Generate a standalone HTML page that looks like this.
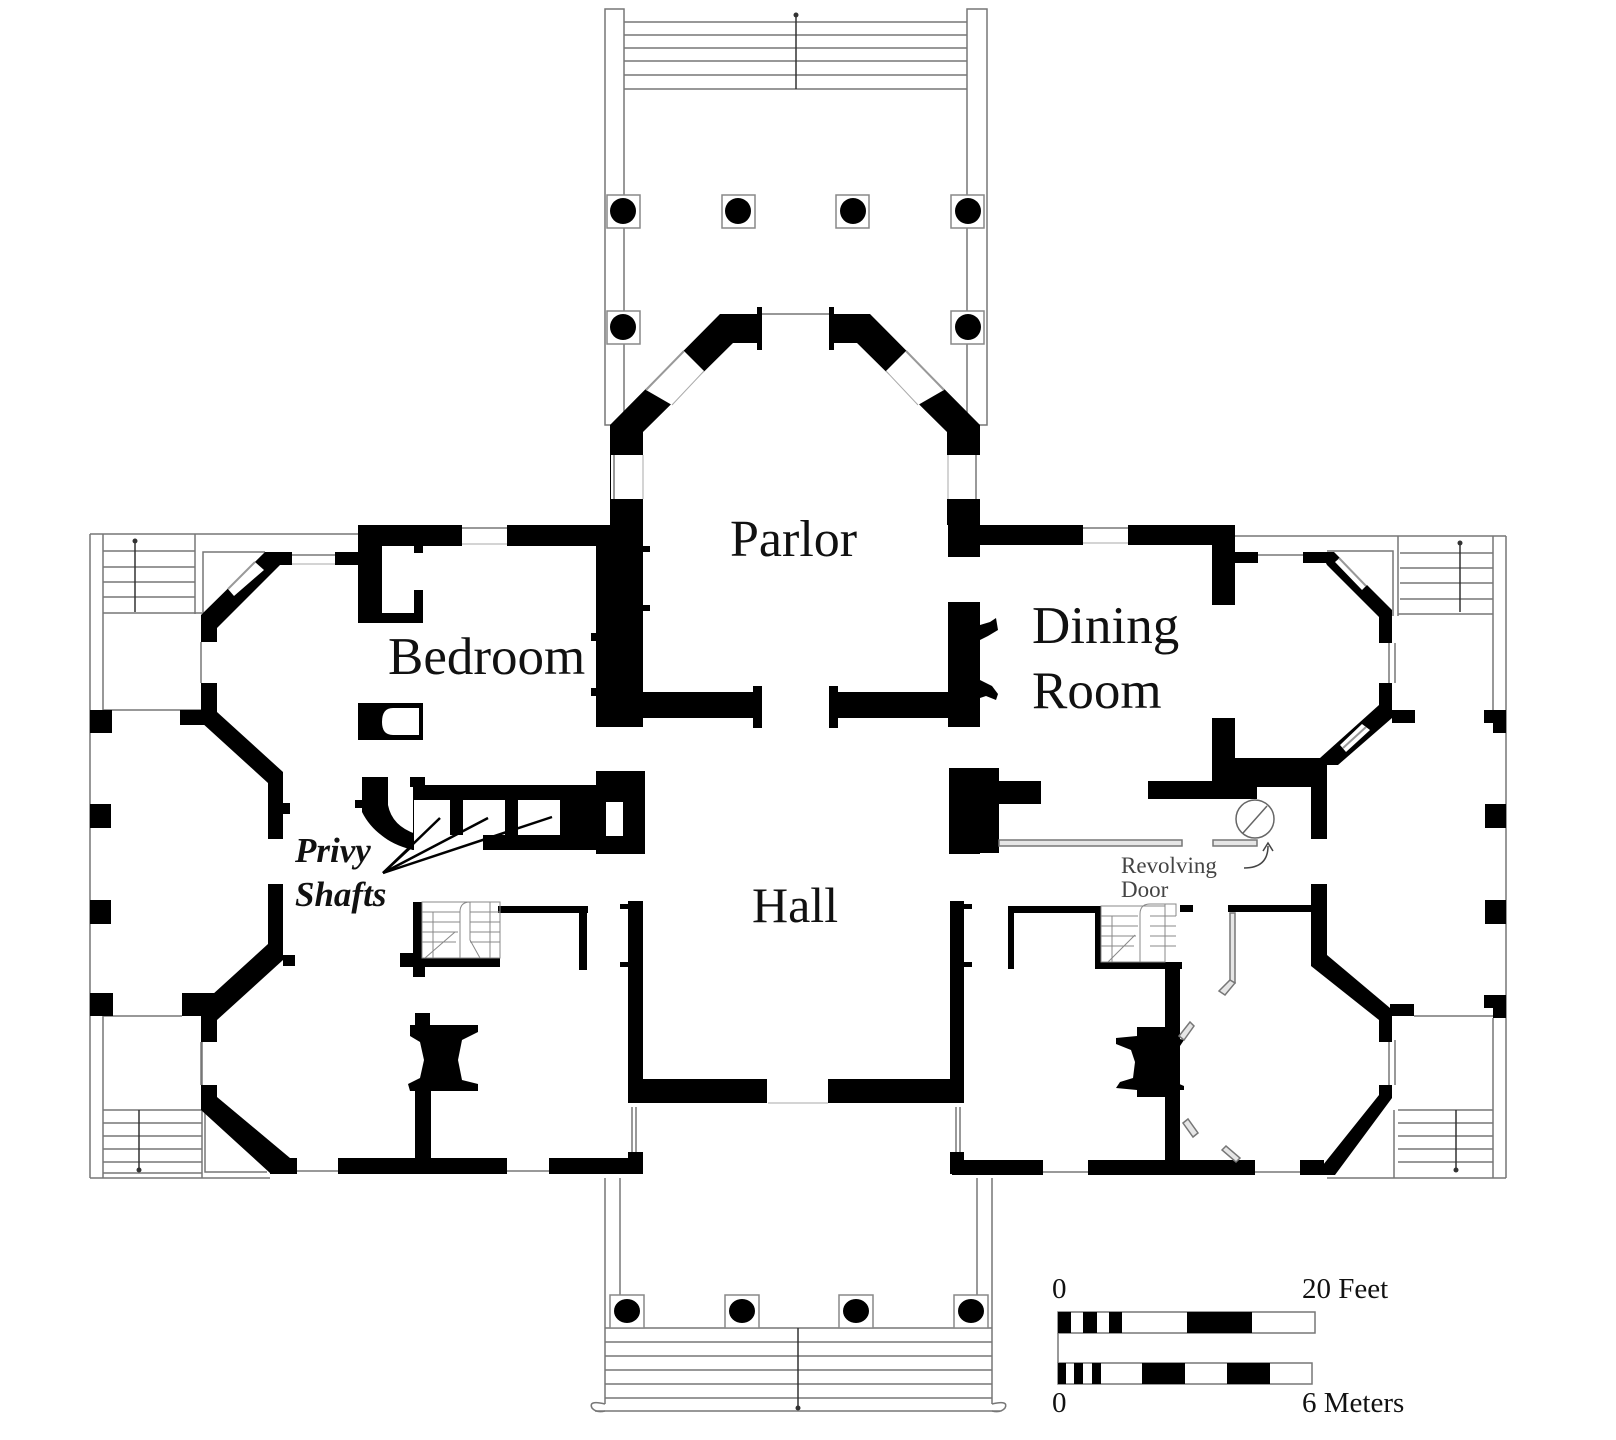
<!DOCTYPE html>
<html><head><meta charset="utf-8"><style>
html,body{margin:0;padding:0;background:#fff;}
svg{display:block;}
text{font-family:"Liberation Serif",serif;fill:#111;}
</style></head><body>
<svg width="1616" height="1440" viewBox="0 0 1616 1440" xmlns="http://www.w3.org/2000/svg">
<rect width="1616" height="1440" fill="#fff"/>

<!-- ===== TOP PORTICO ===== -->
<g fill="none" stroke="#777" stroke-width="1.5">
  <rect x="605" y="9" width="19" height="416"/>
  <rect x="967" y="9" width="20" height="416"/>
  <line x1="624" y1="22" x2="967" y2="22"/>
  <line x1="624" y1="35" x2="967" y2="35"/>
  <line x1="624" y1="48" x2="967" y2="48"/>
  <line x1="624" y1="61" x2="967" y2="61"/>
  <line x1="624" y1="75" x2="967" y2="75"/>
  <line x1="624" y1="89" x2="967" y2="89"/>
  <line x1="796" y1="15" x2="796" y2="89" stroke="#333"/>
  <line x1="760" y1="314" x2="830" y2="314"/>
</g>
<circle cx="796" cy="15" r="2.5" fill="#333"/>
<g fill="#fff" stroke="#888" stroke-width="1.5">
  <rect x="607" y="195" width="33" height="33"/><rect x="722" y="195" width="33" height="33"/>
  <rect x="836" y="195" width="33" height="33"/><rect x="951" y="195" width="33" height="33"/>
  <rect x="607" y="311" width="33" height="33"/><rect x="951" y="311" width="33" height="33"/>
</g>
<g fill="#000">
  <circle cx="623" cy="211" r="13"/><circle cx="738" cy="211" r="13"/>
  <circle cx="853" cy="211" r="13"/><circle cx="968" cy="211" r="13"/>
  <circle cx="623" cy="327" r="13"/><circle cx="968" cy="327" r="13"/>
</g>

<!-- ===== BOTTOM PORTICO ===== -->
<g fill="none" stroke="#777" stroke-width="1.5">
  <line x1="605" y1="1178" x2="605" y2="1404"/><line x1="620" y1="1178" x2="620" y2="1295"/>
  <line x1="977" y1="1178" x2="977" y2="1295"/><line x1="992" y1="1178" x2="992" y2="1404"/>
  <line x1="605" y1="1328" x2="992" y2="1328"/>
  <line x1="605" y1="1342" x2="992" y2="1342"/>
  <line x1="605" y1="1356" x2="992" y2="1356"/>
  <line x1="605" y1="1370" x2="992" y2="1370"/>
  <line x1="605" y1="1384" x2="992" y2="1384"/>
  <line x1="605" y1="1398" x2="992" y2="1398"/>
  <line x1="595" y1="1411" x2="1000" y2="1411"/>
  <path d="M605,1404 Q588,1400 592,1408 Q596,1413 605,1411"/>
  <path d="M992,1404 Q1009,1400 1005,1408 Q1001,1413 992,1411"/>
  <line x1="798" y1="1328" x2="798" y2="1408" stroke="#333"/>
</g>
<circle cx="798" cy="1408" r="2.5" fill="#333"/>
<g fill="#fff" stroke="#888" stroke-width="1.5">
  <rect x="610" y="1295" width="34" height="33"/><rect x="725" y="1295" width="34" height="33"/>
  <rect x="839" y="1295" width="34" height="33"/><rect x="954" y="1295" width="34" height="33"/>
</g>
<g fill="#000">
  <ellipse cx="627" cy="1311" rx="13" ry="12"/><ellipse cx="742" cy="1311" rx="13" ry="12"/>
  <ellipse cx="856" cy="1311" rx="13" ry="12"/><ellipse cx="971" cy="1311" rx="13" ry="12"/>
</g>

<!-- ===== LEFT PORCH ===== -->
<g fill="none" stroke="#777" stroke-width="1.5">
  <line x1="90" y1="534" x2="90" y2="1178"/>
  <line x1="103" y1="534" x2="103" y2="710"/>
  <line x1="103" y1="1016" x2="103" y2="1178"/>
  <line x1="90" y1="534" x2="360" y2="534"/>
  <line x1="195" y1="534" x2="195" y2="614"/>
  <polyline points="265,552 203,552 203,615"/>
  <line x1="103" y1="551" x2="195" y2="551"/><line x1="103" y1="567" x2="195" y2="567"/>
  <line x1="103" y1="582" x2="195" y2="582"/><line x1="103" y1="597" x2="195" y2="597"/>
  <line x1="103" y1="613" x2="202" y2="613"/>
  <line x1="103" y1="710" x2="201" y2="710"/>
  <line x1="201" y1="642" x2="201" y2="683"/>
  <line x1="103" y1="1016" x2="182" y2="1016"/>
  <line x1="202" y1="1016" x2="202" y2="1178"/>
  <line x1="201" y1="1042" x2="201" y2="1085"/>
  <line x1="103" y1="1110" x2="202" y2="1110"/><line x1="103" y1="1123" x2="202" y2="1123"/>
  <line x1="103" y1="1136" x2="202" y2="1136"/><line x1="103" y1="1149" x2="202" y2="1149"/>
  <line x1="103" y1="1162" x2="202" y2="1162"/><line x1="103" y1="1173" x2="202" y2="1173"/>
  <line x1="90" y1="1178" x2="270" y2="1178"/>
  <polyline points="205,1110 205,1172 267,1172"/>
  <line x1="135" y1="541" x2="135" y2="612" stroke="#333"/>
  <line x1="139" y1="1110" x2="139" y2="1170" stroke="#333"/>
</g>
<circle cx="135" cy="541" r="2.5" fill="#333"/><circle cx="139" cy="1170" r="2.5" fill="#333"/>
<g fill="#000">
  <rect x="90" y="710" width="22" height="23"/>
  <rect x="90" y="804" width="21" height="24"/>
  <rect x="90" y="900" width="21" height="24"/>
  <rect x="90" y="993" width="23" height="23"/>
</g>

<!-- ===== RIGHT PORCH ===== -->
<g fill="none" stroke="#777" stroke-width="1.5">
  <line x1="1506" y1="536" x2="1506" y2="1178"/>
  <line x1="1493" y1="536" x2="1493" y2="710"/>
  <line x1="1493" y1="1018" x2="1493" y2="1178"/>
  <line x1="1235" y1="536" x2="1506" y2="536"/>
  <line x1="1398" y1="536" x2="1398" y2="616"/>
  <polyline points="1327,551 1393,551 1393,616"/>
  <line x1="1400" y1="553" x2="1493" y2="553"/><line x1="1400" y1="568" x2="1493" y2="568"/>
  <line x1="1400" y1="583" x2="1493" y2="583"/><line x1="1400" y1="599" x2="1493" y2="599"/>
  <line x1="1398" y1="614" x2="1493" y2="614"/>
  <line x1="1395" y1="643" x2="1395" y2="683"/>
  <line x1="1395" y1="1040" x2="1395" y2="1085"/>
  <line x1="1414" y1="1016" x2="1493" y2="1016"/>
  <line x1="1394" y1="1110" x2="1394" y2="1178"/>
  <line x1="1398" y1="1110" x2="1493" y2="1110"/><line x1="1398" y1="1123" x2="1493" y2="1123"/>
  <line x1="1398" y1="1136" x2="1493" y2="1136"/><line x1="1398" y1="1149" x2="1493" y2="1149"/>
  <line x1="1398" y1="1162" x2="1493" y2="1162"/>
  <line x1="1327" y1="1178" x2="1506" y2="1178"/>
  <line x1="1460" y1="543" x2="1460" y2="612" stroke="#333"/>
  <line x1="1456" y1="1110" x2="1456" y2="1170" stroke="#333"/>
</g>
<circle cx="1460" cy="543" r="2.5" fill="#333"/><circle cx="1456" cy="1170" r="2.5" fill="#333"/>
<g fill="#000">
  <path d="M1484,710 H1506 V733 H1493 V723 H1484 Z"/>
  <rect x="1485" y="804" width="21" height="24"/>
  <rect x="1485" y="900" width="21" height="24"/>
  <path d="M1484,995 H1506 V1018 H1493 V1008 H1484 Z"/>
</g>

<!-- ===== WALLS ===== -->
<g fill="#000">
  <polygon points="720,314 760,314 760,343 733,343 643,432 643,525 610,525 610,425"/>
  <polygon points="870,314 830,314 830,343 857,343 947,432 947,525 980,525 980,425"/>
  <rect x="757" y="307" width="5" height="43"/><rect x="829" y="307" width="5" height="43"/>
  <rect x="596" y="545" width="47" height="182"/>
  <rect x="610" y="495" width="33" height="55"/>
  <rect x="591" y="633" width="6" height="8"/>
  <rect x="591" y="688" width="6" height="8"/>
  <rect x="643" y="546" width="7" height="6"/>
  <rect x="643" y="605" width="7" height="6"/>
  <rect x="948" y="495" width="32" height="62"/>
  <rect x="948" y="602" width="32" height="125"/>
  <path d="M980,625 L990,622 L996,618 L998,630 L988,636 L980,640 Z"/>
  <path d="M980,680 L992,686 L998,694 L996,700 L986,696 L980,698 Z"/>
  <rect x="359" y="525" width="252" height="21"/>
  <rect x="980" y="525" width="255" height="20"/>
  <rect x="643" y="692" width="114" height="26"/>
  <rect x="753" y="686" width="9" height="42"/>
  <rect x="834" y="692" width="116" height="26"/>
  <rect x="829" y="686" width="9" height="42"/>
  <rect x="596" y="771" width="49" height="83"/>
  <rect x="949" y="771" width="31" height="83"/>
  <rect x="949" y="768" width="50" height="85"/>
  <rect x="999" y="781" width="42" height="23"/>
  <rect x="628" y="901" width="15" height="202"/>
  <rect x="620" y="904" width="8" height="5"/><rect x="620" y="962" width="8" height="5"/>
  <rect x="628" y="1152" width="15" height="22"/>
  <rect x="950" y="901" width="14" height="202"/>
  <rect x="964" y="904" width="8" height="5"/><rect x="964" y="962" width="8" height="5"/>
  <rect x="950" y="1152" width="14" height="22"/>
  <rect x="643" y="1079" width="124" height="24"/>
  <rect x="828" y="1079" width="122" height="24"/>

  <rect x="358" y="525" width="24" height="98"/>
  <rect x="358" y="613" width="65" height="10"/>
  <rect x="414" y="590" width="9" height="33"/>
  <rect x="414" y="545" width="9" height="8"/>
  <path d="M358,703 H423 V740 H358 Z M393,708 Q382,708 382,722 Q382,735 393,735 H419 V708 Z" fill-rule="evenodd"/>
  <rect x="265" y="552" width="94" height="13"/>
  <polygon points="265,552 280,552 280,565 217,628 217,642 201,642 201,615"/>
  <rect x="201" y="683" width="16" height="27"/>
  <rect x="180" y="710" width="37" height="15"/>
  <polygon points="201,712 217,712 283,772 283,790 268,790 268,783 201,722"/>
  <rect x="268" y="772" width="15" height="67"/>
  <rect x="283" y="803" width="7" height="11"/>
  <rect x="268" y="884" width="15" height="72"/>
  <rect x="283" y="955" width="12" height="11"/>
  <polygon points="268,950 283,950 283,960 217,1020 217,1016 201,1020 201,1005 268,944"/>
  <rect x="182" y="993" width="35" height="23"/>
  <rect x="201" y="1010" width="16" height="32"/>
  <polygon points="201,1085 217,1085 217,1097 290,1158 270,1173 201,1110"/>
  <rect x="270" y="1158" width="373" height="16"/>
  <rect x="415" y="1089" width="16" height="70"/>
  <polygon points="415,1013 430,1013 430,1025 478,1025 478,1032 462,1040 458,1060 462,1080 478,1084 478,1091 410,1091 408,1084 420,1078 424,1060 420,1042 410,1036 410,1025 415,1025"/>
  <rect x="413" y="902" width="9" height="75"/>
  <rect x="400" y="953" width="22" height="14"/>
  <rect x="413" y="958" width="87" height="9"/>
  <rect x="413" y="967" width="12" height="10"/>
  <rect x="498" y="906" width="90" height="7"/>
  <rect x="579" y="906" width="8" height="64"/>
  <rect x="413" y="785" width="232" height="65"/>
  <rect x="410" y="777" width="15" height="10"/>
  <path d="M362,777 H388 V805 Q392,826 416,834 L413,850 Q376,840 362,812 Z"/>
  <rect x="355" y="800" width="10" height="8"/>
</g>
<g fill="#fff">
  <rect x="414" y="800" width="36" height="50"/>
  <rect x="450" y="835" width="33" height="15"/>
  <rect x="463" y="800" width="42" height="35"/>
  <rect x="518" y="800" width="42" height="35"/>
  <rect x="606" y="802" width="17" height="34"/>
</g>
<g fill="#000">
  <rect x="623" y="785" width="22" height="65"/>
  <rect x="598" y="771" width="47" height="14"/>
  <path d="M388,812 Q396,832 414,838 L413,850 Q380,842 370,820 Z"/>
</g>
<g stroke="#000" stroke-width="2.5" fill="none">
  <line x1="383" y1="873" x2="440" y2="818"/>
  <line x1="383" y1="873" x2="488" y2="818"/>
  <line x1="383" y1="873" x2="552" y2="817"/>
  <line x1="383" y1="873" x2="410" y2="848"/>
</g>

<!-- ===== RIGHT WING ===== -->
<g fill="#000">
  <rect x="1212" y="525" width="23" height="80"/>
  <rect x="1235" y="552" width="92" height="11"/>
  <polygon points="1320,552 1334,552 1392,610 1392,622 1379,622 1379,617 1327,565"/>
  <rect x="1379" y="617" width="13" height="26"/>
  <rect x="1379" y="683" width="13" height="27"/>
  <rect x="1392" y="710" width="23" height="13"/>
  <polygon points="1379,705 1392,710 1392,718 1338,765 1320,765 1320,758 1379,705"/>
  <rect x="1212" y="718" width="23" height="69"/>
  <rect x="1235" y="758" width="92" height="29"/>
  <rect x="1148" y="781" width="109" height="18"/>
  <rect x="1311" y="768" width="16" height="71"/>
  <rect x="1311" y="884" width="16" height="76"/>
  <polygon points="1311,955 1327,955 1390,1008 1390,1020 1379,1020 1311,966"/>
  <rect x="1390" y="1004" width="24" height="12"/>
  <rect x="1379" y="1016" width="13" height="26"/>
  <rect x="1379" y="1085" width="13" height="10"/>
  <polygon points="1379,1088 1392,1092 1392,1098 1335,1175 1315,1175 1379,1095"/>
  <rect x="952" y="1160" width="372" height="15"/>
  <rect x="1008" y="906" width="93" height="7"/>
  <rect x="1008" y="906" width="6" height="63"/>
  <rect x="1095" y="906" width="6" height="62"/>
  <rect x="1095" y="962" width="87" height="7"/>
  <rect x="1165" y="962" width="15" height="198"/>
  <rect x="1180" y="905" width="13" height="7"/>
  <rect x="1228" y="905" width="89" height="7"/>
  <polygon points="1137,1027 1167,1027 1167,1036 1184,1040 1180,1046 1170,1050 1168,1065 1170,1080 1184,1086 1184,1090 1167,1090 1167,1097 1137,1097 1137,1090 1116,1088 1120,1082 1133,1078 1135,1062 1131,1050 1116,1044 1116,1038 1137,1036"/>
</g>

<!-- windows -->
<g fill="#fff" stroke="none">
  <polygon points="684,351 646,390 672,405 704,371"/>
  <polygon points="906,351 944,390 918,405 886,371"/>
  <rect x="611" y="455" width="34" height="44"/>
  <rect x="946" y="455" width="35" height="44"/>
  <rect x="1083" y="525" width="45" height="20"/>
  <rect x="462" y="525" width="45" height="21"/>
  <rect x="292" y="552" width="43" height="13"/>
  <polygon points="255,562 228,589 234,596 264,570"/>
  <rect x="1258" y="552" width="45" height="11"/>
  <polygon points="1335,562 1362,590 1368,584 1342,556"/>
  <rect x="1378" y="643" width="15" height="40"/>
  <polygon points="1362,724 1340,745 1346,752 1370,730"/>
  <rect x="297" y="1158" width="41" height="16"/>
  <rect x="507" y="1158" width="42" height="16"/>
  <rect x="1043" y="1160" width="45" height="15"/>
  <rect x="1255" y="1160" width="45" height="15"/>
  <rect x="627" y="1107" width="17" height="45"/>
  <rect x="949" y="1107" width="17" height="45"/>
  <rect x="1378" y="1042" width="15" height="43"/>
</g>
<g stroke="#999" stroke-width="2" fill="none">
  <line x1="684" y1="351" x2="646" y2="390"/>
  <line x1="906" y1="351" x2="944" y2="390"/>
  <line x1="614" y1="455" x2="614" y2="499"/>
  <line x1="976" y1="455" x2="976" y2="499"/>
  <line x1="1083" y1="528" x2="1128" y2="528"/>
  <line x1="462" y1="528" x2="507" y2="528"/>
  <line x1="292" y1="555" x2="335" y2="555"/>
  <line x1="255" y1="562" x2="228" y2="589"/>
  <line x1="1258" y1="555" x2="1303" y2="555"/>
  <line x1="1339" y1="558" x2="1366" y2="586"/>
  <line x1="1389" y1="643" x2="1389" y2="683"/>
  <line x1="1366" y1="727" x2="1343" y2="748"/>
  <line x1="297" y1="1171" x2="338" y2="1171"/>
  <line x1="507" y1="1171" x2="549" y2="1171"/>
  <line x1="1043" y1="1172" x2="1088" y2="1172"/>
  <line x1="1255" y1="1172" x2="1300" y2="1172"/>
  <line x1="632" y1="1107" x2="632" y2="1152"/>
  <line x1="636" y1="1107" x2="636" y2="1152"/>
  <line x1="956" y1="1107" x2="956" y2="1152"/>
  <line x1="960" y1="1107" x2="960" y2="1152"/>
  <line x1="1389" y1="1042" x2="1389" y2="1085"/>
</g>
<g stroke="#aaa" stroke-width="1" fill="none">
  <line x1="672" y1="405" x2="704" y2="371"/>
  <line x1="918" y1="405" x2="886" y2="371"/>
  <line x1="1083" y1="543" x2="1128" y2="543"/>
  <line x1="462" y1="544" x2="507" y2="544"/>
  <line x1="292" y1="564" x2="335" y2="564"/>
  <line x1="768" y1="1103" x2="828" y2="1103"/>
  <line x1="643" y1="455" x2="643" y2="499"/>
  <line x1="948" y1="455" x2="948" y2="499"/>
</g>

<!-- stairs -->
<g stroke="#888" stroke-width="1" fill="none">
  <rect x="422" y="902" width="78" height="56"/>
  <line x1="422" y1="912" x2="460" y2="912"/><line x1="422" y1="922" x2="460" y2="922"/>
  <line x1="422" y1="932" x2="458" y2="932"/><line x1="422" y1="942" x2="456" y2="942"/>
  <line x1="470" y1="912" x2="500" y2="912"/><line x1="470" y1="922" x2="500" y2="922"/>
  <line x1="470" y1="932" x2="500" y2="932"/><line x1="470" y1="942" x2="500" y2="942"/>
  <line x1="433" y1="912" x2="433" y2="958"/><line x1="490" y1="902" x2="490" y2="958"/>
  <path d="M460,958 L460,912 Q460,902 470,902 L470,940 L480,958"/>
  <line x1="425" y1="958" x2="455" y2="932"/>
</g>
<g stroke="#888" stroke-width="1" fill="none">
  <rect x="1101" y="906" width="64" height="56"/>
  <line x1="1101" y1="916" x2="1138" y2="916"/><line x1="1101" y1="926" x2="1138" y2="926"/>
  <line x1="1101" y1="936" x2="1136" y2="936"/><line x1="1101" y1="946" x2="1134" y2="946"/>
  <line x1="1150" y1="916" x2="1176" y2="916"/><line x1="1150" y1="926" x2="1176" y2="926"/>
  <line x1="1150" y1="936" x2="1176" y2="936"/><line x1="1150" y1="946" x2="1176" y2="946"/>
  <line x1="1112" y1="916" x2="1112" y2="962"/><line x1="1165" y1="904" x2="1165" y2="940"/>
  <path d="M1140,962 L1140,914 Q1140,904 1150,904 L1176,904 L1176,916"/>
  <line x1="1108" y1="962" x2="1135" y2="935"/>
</g>

<!-- revolving door -->
<g stroke="#777" stroke-width="1.5" fill="#e6e6e6">
  <rect x="999" y="840" width="183" height="6"/>
  <rect x="1213" y="840" width="44" height="6"/>
  <rect x="1230" y="913" width="5" height="70"/>
  <polygon points="1230,980 1235,983 1225,995 1219,991"/>
  <polygon points="1190,1022 1194,1026 1184,1040 1179,1036"/>
  <polygon points="1183,1123 1188,1119 1198,1133 1193,1137"/>
  <polygon points="1222,1150 1226,1146 1240,1158 1236,1162"/>
</g>
<circle cx="1255" cy="819" r="19" fill="#fff" stroke="#666" stroke-width="1.5"/>
<line x1="1243" y1="833" x2="1267" y2="806" stroke="#666" stroke-width="1.5"/>
<path d="M1244,868 Q1268,868 1268,846" fill="none" stroke="#444" stroke-width="1.5"/>
<path d="M1263,851 L1268,843 L1273,851" fill="none" stroke="#444" stroke-width="1.5"/>

<!-- labels -->
<text x="730" y="556" font-size="52">Parlor</text>
<text x="388" y="674" font-size="53">Bedroom</text>
<text x="1032" y="643" font-size="53">Dining</text>
<text x="1032" y="708" font-size="53">Room</text>
<text x="752" y="922" font-size="50">Hall</text>
<text x="295" y="862" font-size="35" font-weight="bold" font-style="italic">Privy</text>
<text x="295" y="906" font-size="35" font-weight="bold" font-style="italic">Shafts</text>
<text x="1121" y="873" font-size="23" style="fill:#444">Revolving</text>
<text x="1121" y="897" font-size="23" style="fill:#444">Door</text>

<!-- scale bar -->
<text x="1052" y="1298" font-size="29">0</text>
<text x="1302" y="1298" font-size="29">20 Feet</text>
<rect x="1058" y="1312" width="257" height="21" fill="#fff" stroke="#777" stroke-width="1.5"/>
<g fill="#000">
  <rect x="1058" y="1312" width="13" height="21"/>
  <rect x="1083" y="1312" width="14" height="21"/>
  <rect x="1109" y="1312" width="13" height="21"/>
  <rect x="1187" y="1312" width="65" height="21"/>
</g>
<line x1="1058" y1="1333" x2="1058" y2="1363" stroke="#777" stroke-width="1.5"/>
<rect x="1058" y="1363" width="254" height="21" fill="#fff" stroke="#777" stroke-width="1.5"/>
<g fill="#000">
  <rect x="1058" y="1363" width="8" height="21"/>
  <rect x="1074" y="1363" width="9" height="21"/>
  <rect x="1092" y="1363" width="9" height="21"/>
  <rect x="1142" y="1363" width="43" height="21"/>
  <rect x="1227" y="1363" width="43" height="21"/>
</g>
<text x="1052" y="1412" font-size="29">0</text>
<text x="1302" y="1412" font-size="29">6 Meters</text>
</svg>
</body></html>
